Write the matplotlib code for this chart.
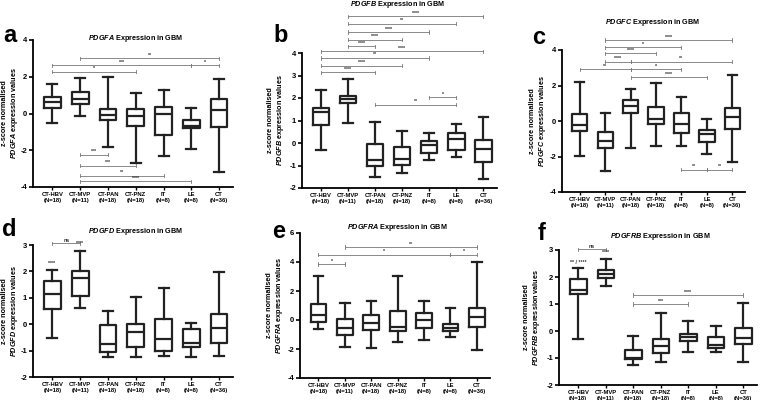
import matplotlib
matplotlib.use("Agg")
import matplotlib.pyplot as plt

plt.rcParams['font.family'] = ['Liberation Sans', 'DejaVu Sans']
plt.rcParams['font.weight'] = 'bold'
plt.rcParams['axes.labelweight'] = 'bold'
plt.rcParams['axes.titleweight'] = 'bold'
plt.rcParams['mathtext.fontset'] = 'custom'
plt.rcParams['mathtext.it'] = 'Liberation Sans:italic:bold'
plt.rcParams['mathtext.rm'] = 'Liberation Sans:bold'
plt.rcParams['mathtext.bf'] = 'Liberation Sans:bold'

groups = ["CT-HBV", "CT-MVP", "CT-PAN", "CT-PNZ", "IT", "LE", "CT"]
group_n = [18, 11, 18, 18, 8, 8, 36]

# box statistics: whisker low, q1, median, q3, whisker high
PDGFA_lo = [-0.49, -0.13, -1.85, -2.70, -2.33, -1.94, -3.20]
PDGFA_q1 = [0.29, 0.50, -0.38, -0.67, -1.19, -0.80, -0.76]
PDGFA_med = [0.65, 0.80, -0.07, -0.16, -0.04, -0.67, 0.20]
PDGFA_q3 = [0.92, 1.19, 0.27, 0.27, 0.36, -0.34, 0.78]
PDGFA_hi = [1.61, 1.95, 1.97, 1.14, 1.28, 0.29, 1.86]

PDGFB_lo = [-0.30, 0.89, -1.53, -1.33, -0.74, -0.62, -1.60]
PDGFB_q1 = [0.81, 1.78, -1.00, -0.96, -0.44, -0.33, -0.84]
PDGFB_med = [1.36, 1.96, -0.77, -0.70, -0.10, 0.19, -0.25]
PDGFB_q3 = [1.56, 2.10, -0.06, -0.18, 0.07, 0.44, 0.12]
PDGFB_hi = [2.34, 2.86, 0.92, 0.55, 0.44, 0.86, 1.14]

PDGFC_lo = [-1.97, -2.82, -1.52, -1.40, -1.40, -1.87, -2.31]
PDGFC_q1 = [-0.56, -1.50, 0.46, -0.18, -0.67, -1.18, -0.46]
PDGFC_med = [-0.20, -1.14, 0.86, 0.14, -0.18, -0.76, 0.24]
PDGFC_q3 = [0.42, -0.61, 1.21, 0.80, 0.46, -0.52, 0.71]
PDGFC_hi = [2.17, 0.46, 1.78, 2.16, 1.37, 0.12, 2.61]

PDGFD_lo = [-0.54, 0.63, -1.24, -1.24, -1.20, -1.24, -1.22]
PDGFD_q1 = [0.59, 1.08, -1.05, -0.86, -1.03, -0.86, -0.71]
PDGFD_med = [1.14, 1.75, -0.76, -0.30, -0.57, -0.70, -0.16]
PDGFD_q3 = [1.65, 2.03, -0.03, -0.01, 0.20, -0.20, 0.40]
PDGFD_hi = [2.05, 2.78, 0.49, 1.04, 1.39, 0.03, 1.96]

PDGFRA_lo = [-0.59, -1.85, -1.94, -1.53, -1.35, -1.20, -2.10]
PDGFRA_q1 = [-0.15, -1.00, -0.72, -0.79, -0.56, -0.75, -0.45]
PDGFRA_med = [0.32, -0.55, -0.22, -0.50, 0.02, -0.55, 0.22]
PDGFRA_q3 = [1.09, 0.09, 0.32, 0.60, 0.49, -0.30, 0.80]
PDGFRA_hi = [3.06, 1.14, 1.30, 3.06, 1.28, 0.86, 3.97]

PDGFRB_lo = [-0.31, 1.67, -1.25, -1.15, -0.78, -0.78, -1.15]
PDGFRB_q1 = [1.36, 1.95, -1.05, -0.81, -0.37, -0.63, -0.48]
PDGFRB_med = [1.51, 2.10, -0.99, -0.56, -0.24, -0.50, -0.25]
PDGFRB_q3 = [1.92, 2.26, -0.69, -0.31, -0.10, -0.22, 0.11]
PDGFRB_hi = [2.34, 2.65, -0.20, 0.65, 0.37, 0.17, 1.02]

# significance annotations: (group i, group j, y, label)
PDGFA_sig = [(1, 6, 3.00, "**"), (0, 5, 2.62, "***"), (5, 6, 2.62, "*"),
             (0, 3, 2.28, "*"), (1, 2, -2.24, "***"), (1, 3, -2.84, "***"),
             (1, 4, -3.38, "**"), (1, 5, -3.69, "****")]
PDGFB_sig = [(1, 6, 5.63, "****"), (1, 5, 5.30, "**"), (1, 4, 4.93, "****"),
             (1, 3, 4.59, "****"), (1, 2, 4.30, "****"), (0, 6, 4.07, "****"),
             (0, 4, 3.78, "**"), (0, 3, 3.44, "****"), (0, 2, 3.14, "****"),
             (4, 5, 2.03, "*"), (2, 5, 1.70, "**")]
PDGFC_sig = [(1, 6, 4.56, "****"), (1, 4, 4.15, "*"), (1, 3, 3.81, "****"),
             (1, 2, 3.34, "****"), (2, 6, 3.34, "**"), (0, 2, 2.91, "**"),
             (2, 4, 2.91, "*"), (2, 5, 2.46, "****"), (4, 5, -2.74, "**"),
             (5, 6, -2.74, "**")]
PDGFD_sig = [(0, 1, 3.06, "ns")]
PDGFD_marks = [(0, 2.20, "****"), (1, 2.96, "****")]
PDGFRA_sig = [(1, 6, 5.03, "**"), (0, 5, 4.50, "*"), (5, 6, 4.50, "*"),
              (0, 1, 3.86, "*")]
PDGFRB_sig = [(0, 1, 3.03, "ns"), (2, 6, 1.33, "****"), (2, 4, 1.00, "***")]
PDGFRB_marks = [(0, 2.44, "** / ****"), (1, 2.82, "****")]

W, H = 760, 400
fig = plt.figure(figsize=(W / 100, H / 100), dpi=100)


def add_ax(x0, x1, ytop, ybot):
    ax = fig.add_axes([x0 / W, 1 - ybot / H, (x1 - x0) / W, (ybot - ytop) / H])
    ax._px = (x0, x1)
    return ax


def draw(ax, gene, lo, q1, med, q3, hi, ylim, yticks, sig, marks, letter,
         letter_xy, label_right):
    stats = [dict(whislo=a, q1=b, med=c, q3=d, whishi=e, fliers=[])
             for a, b, c, d, e in zip(lo, q1, med, q3, hi)]
    col = '#222222'
    ax.bxp(stats, positions=list(range(len(groups))), widths=0.6, capwidths=0.36,
           showfliers=False,
           boxprops=dict(color=col, lw=1.6),
           whiskerprops=dict(color=col, lw=1.6),
           capprops=dict(color=col, lw=1.6),
           medianprops=dict(color=col, lw=1.6))
    ax.set_xlim(-0.7, 6.5)
    ax.set_ylim(*ylim)
    ax.set_yticks(yticks)
    ax.set_yticklabels([str(t) for t in yticks])
    ax.set_xticks(list(range(len(groups))))
    ax.set_xticklabels([f"{g}\n(N={n})" for g, n in zip(groups, group_n)],
                       fontsize=4.2, linespacing=1.35)
    ax.tick_params(axis='y', labelsize=5.5, length=3, width=1.2, pad=1.2)
    ax.tick_params(axis='x', length=2, width=1, pad=1.5)
    for s in ('top', 'right'):
        ax.spines[s].set_visible(False)
    for s in ('left', 'bottom'):
        ax.spines[s].set_linewidth(1.3)
    ax.set_ylabel(f"z-score normalised\n${gene}$ expression values", fontsize=5.2,
                  linespacing=1.1)
    x0, x1 = ax._px
    ax.yaxis.set_label_coords((label_right - x0) / (x1 - x0), 0.5)
    rng = ylim[1] - ylim[0]
    tk = 0.012 * rng
    gcol = '#777777'
    for i, j, y, t in sig:
        ax.plot([i, j], [y, y], color=gcol, lw=0.6, clip_on=False)
        for x in (i, j):
            ax.plot([x, x], [y - tk, y + tk], color=gcol, lw=0.6, clip_on=False)
        ax.text((i + j) / 2, y + 0.004 * rng, t, ha='center', va='bottom',
                fontsize=3.8, color='#333333', clip_on=False)
    for i, y, t in marks:
        ax.text(i, y, t, ha='center', va='bottom', fontsize=3.8, color='#333333',
                clip_on=False)
    fig.text(letter_xy[0] / W, 1 - letter_xy[1] / H, letter, fontsize=17,
             fontweight='bold', ha='left', va='center')


def title(x, y, gene):
    fig.text(x / W, 1 - y / H, f"${gene}$ Expression in GBM", fontsize=5.2,
             fontweight='bold', ha='center', va='center')


axa = add_ax(33, 233, 40, 187)
draw(axa, "PDGFA", PDGFA_lo, PDGFA_q1, PDGFA_med, PDGFA_q3, PDGFA_hi,
     (-4, 4), [-4, -2, 0, 2, 4], PDGFA_sig, [], "a", (3, 36), 20)
title(136, 38, "PDGFA")

axb = add_ax(302, 497, 53, 188)
draw(axb, "PDGFB", PDGFB_lo, PDGFB_q1, PDGFB_med, PDGFB_q3, PDGFB_hi,
     (-2, 4), [-2, -1, 0, 1, 2, 3, 4], PDGFB_sig, [], "b", (273, 35), 286)
title(398, 4, "PDGFB")

axc = add_ax(562, 745, 50, 192)
draw(axc, "PDGFC", PDGFC_lo, PDGFC_q1, PDGFC_med, PDGFC_q3, PDGFC_hi,
     (-4, 4), [-4, -2, 0, 2, 4], PDGFC_sig, [], "c", (532, 37), 548)
title(653, 23, "PDGFC")

axd = add_ax(33, 233, 245, 377)
draw(axd, "PDGFD", PDGFD_lo, PDGFD_q1, PDGFD_med, PDGFD_q3, PDGFD_hi,
     (-2, 3), [-2, -1, 0, 1, 2, 3], PDGFD_sig, PDGFD_marks, "d", (2, 229), 20)
title(136, 232, "PDGFD")

axe = add_ax(300, 490, 233, 378)
draw(axe, "PDGFRA", PDGFRA_lo, PDGFRA_q1, PDGFRA_med, PDGFRA_q3, PDGFRA_hi,
     (-4, 6), [-4, -2, 0, 2, 4, 6], PDGFRA_sig, [], "e", (272, 231), 285)
title(397, 228, "PDGFRA")

axf = add_ax(559, 757, 250, 385)
draw(axf, "PDGFRB", PDGFRB_lo, PDGFRB_q1, PDGFRB_med, PDGFRB_q3, PDGFRB_hi,
     (-2, 3), [-2, -1, 0, 1, 2, 3], PDGFRB_sig, PDGFRB_marks, "f", (538, 233), 542)
title(660, 237, "PDGFRB")

fig.savefig("out.png", dpi=100)
